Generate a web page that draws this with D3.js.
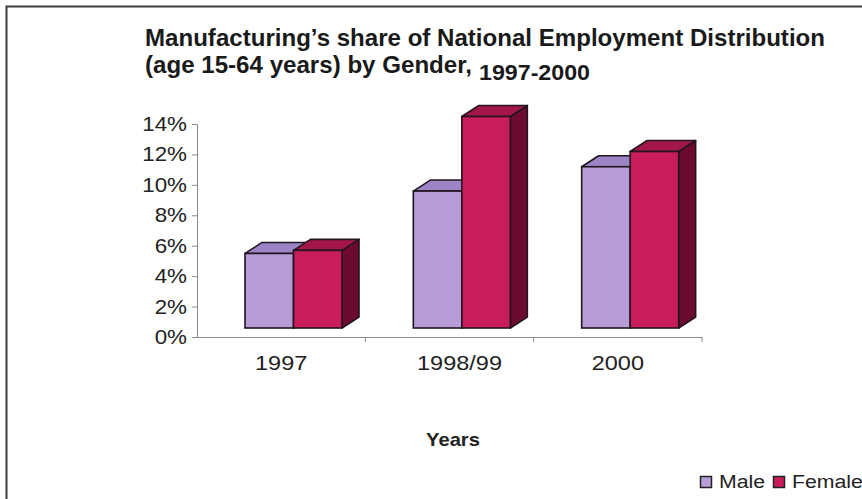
<!DOCTYPE html>
<html><head><meta charset="utf-8">
<script src="https://cdn.jsdelivr.net/npm/d3@7"></script>
<style>html,body{margin:0;padding:0;background:#fff;overflow:hidden}</style>
</head><body>
<svg id="c" width="862" height="499"></svg>
<script>
const categories = ["1997", "1998/99", "2000"];
const seriesNames = ["Male", "Female"];
const maleValues = [4.9, 9.0, 10.6];
const femaleValues = [5.1, 13.9, 11.6];
const yTicks = [0, 2, 4, 6, 8, 10, 12, 14];
const titleLine1 = "Manufacturing\u2019s share of National Employment Distribution";
const titleLine2a = "(age 15-64 years) by Gender,";
const titleLine2b = "1997-2000";
const xTitle = "Years";

const colors = {
  Male: {front: "#b69dd8", top: "#9c84c6", side: "#8a70b4"},
  Female: {front: "#c91d5b", top: "#a3164a", side: "#6c0a31"}
};
const svg = d3.select("#c");
const FF = "'Liberation Sans', Arial, Helvetica, sans-serif";
const FN = "'Liberation Sans Narrow', 'Arial Narrow', 'Liberation Sans', sans-serif";
const SX = 1.12;

// frame
svg.append("path").attr("d", "M6.5,499 L6.5,6.5 L862,6.5")
  .attr("fill", "none").attr("stroke", "#3a3a40").attr("stroke-width", 2);

const x = d3.scaleBand().domain(categories).range([197, 702]).padding(0);
const xs = d3.scaleBand().domain(seriesNames).range([48, 145]).padding(0);
const y = d3.scaleLinear().domain([0, 14]).range([337, 124]);

const dx = 17, dy = -11, floorLift = 9;

// axes
const gy = svg.append("g").attr("transform", "translate(197,0)")
  .call(d3.axisLeft(y).tickValues(yTicks).tickSize(5).tickFormat(d => ""));
gy.select(".domain").attr("stroke", "#8a8a8a");
gy.selectAll(".tick line").attr("stroke", "#8a8a8a");

const gx = svg.append("g").attr("transform", "translate(0,337)")
  .call(d3.axisBottom(x).tickSize(0).tickFormat(d => ""));
gx.select(".domain").attr("stroke", "#8a8a8a");
gx.selectAll(".tick").remove();
categories.forEach(c => {
  const xe = x(c) + x.bandwidth();
  svg.append("line").attr("x1", xe).attr("x2", xe).attr("y1", 337).attr("y2", 342)
    .attr("stroke", "#8a8a8a");
});

function stxt(px, py, str, opts) {
  const g = svg.append("g").attr("transform", `translate(${px},${py}) scale(${opts.sx || SX},1)`);
  return g.append("text").text(str)
    .attr("font-family", FF).attr("font-size", opts.size)
    .attr("font-weight", opts.weight || "normal")
    .attr("text-anchor", opts.anchor || "start")
    .attr("fill", opts.fill || "#222");
}

// y tick labels
yTicks.forEach(t => stxt(187, y(t) + 7, t + "%", {size: 20, anchor: "end"}));
// category labels
const labelShift = [0, 10, 0];
categories.forEach((c, i) => stxt(x(c) + x.bandwidth() / 2 + labelShift[i], 370, c, {size: 21, anchor: "middle"}));
stxt(453, 446, xTitle, {size: 18, weight: "bold", anchor: "middle"});

// bars
const data = [];
categories.forEach((c, i) => {
  data.push({cat: c, s: "Male", v: maleValues[i]});
  data.push({cat: c, s: "Female", v: femaleValues[i]});
});
const y0 = y(0) - floorLift;
const outline = "#24141f";
const bars = svg.append("g");
data.forEach(d => {
  const x0 = x(d.cat) + xs(d.s);
  const w = xs.bandwidth();
  const h = y(0) - y(d.v);
  const top = y0 - h;
  const g = bars.append("g");
  g.append("path")
    .attr("d", `M${x0+w},${y0} L${x0+w+dx},${y0+dy} L${x0+w+dx},${top+dy} L${x0+w},${top} Z`)
    .attr("fill", colors[d.s].side).attr("stroke", outline).attr("stroke-width", 1.6).attr("stroke-linejoin", "round");
  g.append("path")
    .attr("d", `M${x0},${top} L${x0+dx},${top+dy} L${x0+w+dx},${top+dy} L${x0+w},${top} Z`)
    .attr("fill", colors[d.s].top).attr("stroke", outline).attr("stroke-width", 1.6).attr("stroke-linejoin", "round");
  g.append("rect").attr("x", x0).attr("y", top).attr("width", w).attr("height", h)
    .attr("fill", colors[d.s].front).attr("stroke", outline).attr("stroke-width", 1.6);
});

// title
svg.append("text").attr("x", 145).attr("y", 46).text(titleLine1)
  .attr("font-family", FN).attr("font-size", 24).attr("font-weight", "bold")
  .attr("fill", "#1a1a1a").attr("textLength", 680).attr("lengthAdjust", "spacingAndGlyphs");
svg.append("text").attr("x", 145).attr("y", 73).text(titleLine2a)
  .attr("font-family", FN).attr("font-size", 24).attr("font-weight", "bold")
  .attr("fill", "#1a1a1a").attr("textLength", 327).attr("lengthAdjust", "spacingAndGlyphs");
svg.append("text").attr("x", 479).attr("y", 80).text(titleLine2b)
  .attr("font-family", FN).attr("font-size", 22).attr("font-weight", "bold")
  .attr("fill", "#1a1a1a").attr("textLength", 111).attr("lengthAdjust", "spacingAndGlyphs");

// legend
const legX = [700, 773];
seriesNames.forEach((s, i) => {
  svg.append("rect").attr("x", legX[i] + 0.5).attr("y", 476.5).attr("width", 11).attr("height", 11)
    .attr("fill", colors[s].front).attr("stroke", "#222").attr("stroke-width", 1.5);
  stxt(legX[i] + 19, 488, s, {size: 19});
});
</script>
</body></html>
